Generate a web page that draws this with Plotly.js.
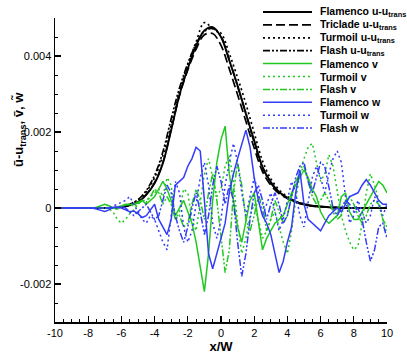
<!DOCTYPE html>
<html>
<head>
<meta charset="utf-8">
<script src="https://cdn.plot.ly/plotly-3.0.1.min.js"></script>
<style>
  html, body { margin: 0; padding: 0; background: #fff; }
  #chart { width: 407px; height: 362px; }
</style>
</head>
<body>
<div id="chart"></div>
<script>
// mean streamwise profiles (step 0.5)
const xProfile = [-10,-9.5,-9,-8.5,-8,-7.5,-7,-6.5,-6,-5.5,-5,-4.5,-4,-3.5,-3,-2.5,-2,-1.5,-1,-0.5,0,0.5,1,1.5,2,2.5,3,3.5,4,4.5,5,5.5,6,6.5,7,7.5,8,8.5,9,9.5,10];
const uFlamenco = [0,0,0,0,0,0,0,0,0.00003,0.00007,0.00015,0.00035,0.00065,0.00118,0.00205,0.00298,0.00367,0.00427,0.00467,0.00476,0.0045,0.00388,0.00322,0.00248,0.00178,0.00108,0.00068,0.00042,0.00027,0.00016,0.0001,0.00006,0.00004,0.00002,0.00001,0,0,0,0,0,0];
const uTriclade = [0,0,0,0,0,0,0,0,0.00003,0.00007,0.00016,0.00036,0.00067,0.0012,0.00207,0.00296,0.00363,0.00418,0.00456,0.00459,0.00428,0.00366,0.00298,0.00228,0.00158,0.00096,0.0006,0.00038,0.00025,0.00015,0.00009,0.00005,0.00003,0.00002,0.00001,0,0,0,0,0,0];
const uTurmoil = [0,0,0,0,0,0,0,0,0.00004,0.0001,0.00021,0.00043,0.0008,0.00138,0.0022,0.00306,0.00377,0.00437,0.00488,0.00472,0.0046,0.00406,0.00343,0.00274,0.00198,0.00124,0.00077,0.00048,0.0003,0.00018,0.00011,0.00006,0.00004,0.00002,0.00001,0,0,0,0,0,0];
const uFlash = [0,0,0,0,0,0,0,0,0.00004,0.0001,0.00022,0.00046,0.00086,0.00148,0.00235,0.00316,0.0038,0.00432,0.00465,0.00472,0.00451,0.0039,0.0032,0.00249,0.00172,0.00105,0.00066,0.00041,0.00026,0.00015,0.00009,0.00005,0.00003,0.00002,0.00001,0,0,0,0,0,0];

// fluctuating components (step 0.25)
const xFluct = [-10,-9.75,-9.5,-9.25,-9,-8.75,-8.5,-8.25,-8,-7.75,
  -7.5,-7.25,-7,-6.75,-6.5,-6.25,-6,-5.75,-5.5,-5.25,
  -5,-4.75,-4.5,-4.25,-4,-3.75,-3.5,-3.25,-3,-2.75,
  -2.5,-2.25,-2,-1.75,-1.5,-1.25,-1,-0.75,-0.5,-0.25,
  0,0.25,0.5,0.75,1,1.25,1.5,1.75,2,2.25,
  2.5,2.75,3,3.25,3.5,3.75,4,4.25,4.5,4.75,
  5,5.25,5.5,5.75,6,6.25,6.5,6.75,7,7.25,
  7.5,7.75,8,8.25,8.5,8.75,9,9.25,9.5,9.75,10];
const vFlamenco = [0,0,0,0,0,0,0,0,0,0,
  0.00002,0.00005,0.0001,0.00006,0,-0.00003,0.00005,0.00008,0.0001,0.0001,
  0.00015,0.0002,0.0001,0.0002,0.0003,0.0005,0.0007,0.0005,0.0002,-0.0002,
  0,0.0002,-0.0001,-0.0004,-0.0009,-0.0015,-0.0022,-0.0012,0.0002,0.0012,
  0.0018,0.00215,0.0009,0.0002,-0.0005,-0.0009,-0.0003,0.0002,0.0004,-0.0004,
  -0.0011,-0.0008,-0.0006,-0.0004,-0.0003,-0.0002,0.0001,0.0004,0.0006,0.0008,
  0.001,0.0008,0.0005,0.0003,-0.0001,-0.0003,-0.0004,-0.0003,-0.0002,0.0003,
  0.0004,-0.0001,-0.0003,-0.0003,-0.0001,0.0001,0.0003,0.0005,0.0007,0.0006,0.0004];
const vTurmoil = [0,0,0,0,0,0,0,0,0,0,
  0,0,0,-0.00002,-0.0001,-0.0003,-0.0004,-0.0003,-0.00015,-0.00005,
  0.0001,0.0002,0.0002,0.0003,0.0004,0.0005,0.0003,0.0008,0.0006,-0.0003,
  -0.0001,0.0005,0.0004,-0.0003,-0.0006,0.0001,0.0009,0.0013,0.0008,0.0003,
  0.0005,0.0011,0.0014,0.0007,-0.0004,-0.0012,-0.0008,-0.0002,0.0001,-0.0003,
  -0.0008,-0.0006,-0.0003,-0.0001,-0.0005,-0.0009,-0.0012,-0.0006,0.0002,0.0009,
  0.0013,0.0016,0.0017,0.0012,0.0007,0.0009,0.0014,0.0011,0.0004,-0.0002,
  -0.0006,-0.0009,-0.0011,-0.001,-0.0004,0.0004,0.0009,0.0006,0.0002,-0.0003,-0.0007];
const vFlash = [0,0,0,0,0,0,0,0,0,0,
  0,0,0,0,0,0.00003,0.00005,0.0001,0.0001,0.00005,
  0.0001,0.0002,0.00015,0.0003,0.0005,0.0004,0.0001,0.0003,0.0001,-0.0003,
  -0.0002,-0.0005,-0.0004,0.0001,0.0005,0.0002,-0.0003,0.0004,0.0009,0.0002,
  -0.0008,-0.0017,-0.0011,0.0004,0.0012,0.0006,-0.0003,-0.0006,-0.0002,0.0003,
  0.0001,-0.0006,-0.0003,0.0002,-0.0001,-0.0004,-0.0002,0.0003,0.0007,0.0009,
  0.0011,0.0007,0.0003,0.0001,0.0002,0.0004,0.0002,-0.0001,-0.0003,-0.0002,
  0.0002,0.0003,0.0001,-0.0002,-0.0004,-0.0002,0.0001,0.0002,0.0001,-0.0003,-0.0005];
const wFlamenco = [0,0,0,0,0,0,0,0,0,0,
  -0.00003,-0.00006,-0.00009,-0.00005,0.00002,0.00002,0,-0.00005,-0.0001,-0.00008,
  -0.00015,-0.00025,-0.0002,-0.00005,0.0001,-0.0003,-0.0005,-0.0007,-0.0003,0.0006,
  0.0007,0.0008,0.0011,0.0013,0.0016,0.0015,0.0002,-0.0012,-0.0016,-0.0012,
  -0.0008,-0.0004,0.0004,0.0009,0.0013,0.0017,0.00205,0.0016,0.0008,0.0002,
  -0.0002,-0.0004,-0.0007,-0.0012,-0.0017,-0.0014,-0.0009,-0.0005,0.0004,0.001,
  0.0001,-0.0003,-0.0004,-0.0005,-0.0006,-0.0004,-0.0002,-0.0001,0,-0.0001,
  0.0001,0.0003,0.00035,0.0004,0.0006,0.00075,0.0006,0.0004,0.0002,0.0001,0.0001];
const wTurmoil = [0,0,0,0,0,0,0,0,0,0,
  0,0,0,0,0.00005,0.0001,0.00015,0.0002,0.0003,0.0001,
  -0.0001,-0.0003,-0.0004,-0.0002,-0.0003,-0.0006,-0.0009,-0.0011,-0.0002,0.0007,
  0.0004,-0.0005,-0.0009,-0.0006,0.0001,0.0008,0.0012,0.0006,-0.0004,-0.0008,
  -0.0003,0.0006,0.0012,0.0017,0.0012,0.0004,-0.0002,0.0003,0.0008,0.0004,
  -0.0002,0.0001,0.0004,-0.0001,-0.0006,-0.0003,0.0002,0.0007,0.0004,-0.0002,
  -0.0005,0.0001,0.0008,0.0011,0.0008,0.0004,0.0009,0.0013,0.0015,0.0012,
  0.0003,-0.0004,-0.0002,0.0002,-0.0001,-0.0004,-0.0002,0.0003,0.0001,-0.0002,0.0001];
const wFlash = [0,0,0,0,0,0,0,0,0,0,
  0,0,0,0,0,0,0.00005,0,-0.0001,-0.0002,
  -0.0001,0,0.0001,-0.0001,-0.0003,-0.0002,0.0002,0.0006,0.0004,-0.0002,
  -0.0006,-0.0009,-0.0005,0,0.0004,-0.0001,-0.0007,-0.0002,0.0006,0.0011,
  0.0007,0.0001,0.0006,0.0002,-0.0009,-0.0018,-0.0012,-0.0003,0.0004,0.0006,
  0.0002,-0.0003,0.0001,0.0004,0.0001,-0.0004,-0.0002,0.0003,0.0008,0.0011,
  0.0012,0.0007,0.0004,0.0008,0.0012,0.0011,0.0005,0,-0.0002,0,
  0.0002,0.0001,-0.0001,0,-0.0003,-0.0009,-0.0014,-0.0011,-0.0005,-0.0004,-0.0008];

const xTickVals = [-10,-8,-6,-4,-2,0,2,4,6,8,10];
const xTickText = ['-10','-8','-6','-4','-2','0','2','4','6','8','10'];
const yTickVals = [-0.002,0,0.002,0.004];
const yTickText = ['-0.002','0','0.002','0.004'];

const FONT = 'Liberation Sans, Arial, Helvetica, sans-serif';
const BLACK = '#000000', GREEN = 'rgb(34,200,34)', BLUE = 'rgb(50,60,250)';
const DASH = '9px,4px', DOT = '2px,3px', DASHDOTDOT = '7px,2px,2px,2px,2px,2px';

function line(name, x, y, color, dash, width, smooth) {
    return {
        x: x, y: y, name: name, type: 'scatter', mode: 'lines',
        line: { color: color, dash: dash, width: width, shape: smooth ? 'spline' : 'linear' },
        showlegend: false, hoverinfo: 'skip'
    };
}

const traces = [
    line('Flamenco u-u<sub>trans</sub>', xProfile, uFlamenco, BLACK, 'solid', 1.9, true),
    line('Triclade u-u<sub>trans</sub>', xProfile, uTriclade, BLACK, DASH, 1.7, true),
    line('Turmoil u-u<sub>trans</sub>', xProfile, uTurmoil, BLACK, DOT, 1.7, true),
    line('Flash u-u<sub>trans</sub>', xProfile, uFlash, BLACK, DASHDOTDOT, 1.7, true),
    line('Flamenco v', xFluct, vFlamenco, GREEN, 'solid', 1.5),
    line('Turmoil v', xFluct, vTurmoil, GREEN, DOT, 1.5),
    line('Flash v', xFluct, vFlash, GREEN, DASHDOTDOT, 1.5),
    line('Flamenco w', xFluct, wFlamenco, BLUE, 'solid', 1.5),
    line('Turmoil w', xFluct, wTurmoil, BLUE, DOT, 1.5),
    line('Flash w', xFluct, wFlash, BLUE, DASHDOTDOT, 1.5)
];

// plot box in pixels, used to place the hand-made legend
const plotL = 55, plotR = 387, plotT = 18, plotB = 322;
const px2x = px => (px - plotL) / (plotR - plotL);
const px2y = py => (plotB - py) / (plotB - plotT);

const shapes = [];
const annotations = [];
traces.forEach((t, i) => {
    const y = px2y(12 + i * 12.9);
    shapes.push({
        type: 'line', xref: 'paper', yref: 'paper',
        x0: px2x(263), x1: px2x(312), y0: y, y1: y,
        line: { color: t.line.color, width: t.line.width, dash: t.line.dash }
    });
    annotations.push({
        xref: 'paper', yref: 'paper', x: px2x(318), y: y,
        xanchor: 'left', yanchor: 'middle', showarrow: false,
        text: '<b>' + t.name + '</b>', font: { size: 10.5, color: '#000' }
    });
});

// y axis title sits above the axis middle, like the original
annotations.push({
    xref: 'paper', yref: 'paper', x: px2x(19), y: px2y(130),
    xanchor: 'center', yanchor: 'middle', textangle: -90, showarrow: false,
    text: '<b>ũ-u<sub>trans</sub>, ṽ, w̃</b>', font: { size: 13, color: '#000' }
});

const axisCommon = {
    showline: true, linecolor: '#000', linewidth: 1.5,
    ticks: 'inside', ticklen: 6, tickwidth: 1.2, tickcolor: '#000',
    showgrid: false, zeroline: false,
    tickfont: { size: 11, color: '#000' }
};

const layout = {
    width: 407, height: 362,
    margin: { l: plotL, r: 407 - plotR, t: plotT, b: 362 - plotB },
    paper_bgcolor: '#fff', plot_bgcolor: '#fff',
    font: { family: FONT, color: '#000' },
    showlegend: false,
    xaxis: Object.assign({}, axisCommon, {
        range: [-10, 10], tickmode: 'array', tickvals: xTickVals, ticktext: xTickText,
        minor: { tickmode: 'linear', tick0: 0, dtick: 0.5, ticks: 'inside', ticklen: 3, tickwidth: 1, tickcolor: '#000' },
        title: { text: '<b>x/W</b>', font: { size: 13 }, standoff: 0 }
    }),
    yaxis: Object.assign({}, axisCommon, {
        range: [-0.003, 0.005], tickmode: 'array', tickvals: yTickVals, ticktext: yTickText,
        minor: { tickmode: 'linear', tick0: 0, dtick: 0.0005, ticks: 'inside', ticklen: 3, tickwidth: 1, tickcolor: '#000' }
    }),
    shapes: shapes,
    annotations: annotations
};

Plotly.newPlot('chart', traces, layout, { displayModeBar: false, staticPlot: true });
</script>
</body>
</html>
